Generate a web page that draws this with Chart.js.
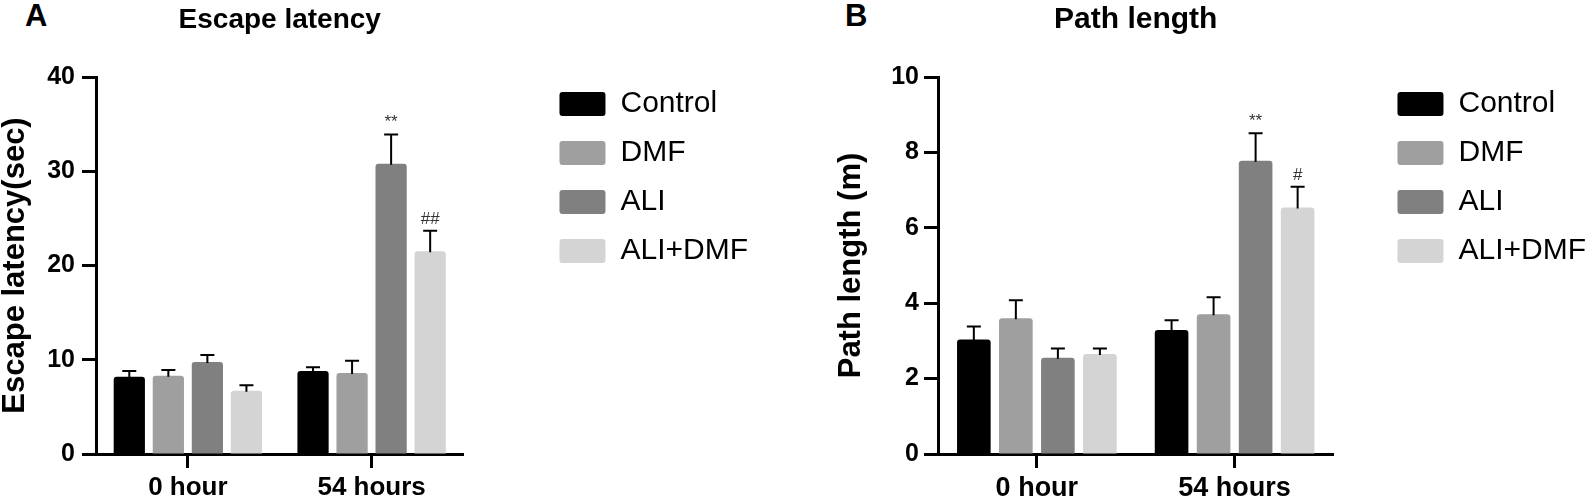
<!doctype html>
<html lang="en">
<head>
<meta charset="UTF-8">
<title>Escape latency / Path length</title>
<script src="https://cdn.jsdelivr.net/npm/chart.js"></script>
<style>
  html, body { margin: 0; padding: 0; background: #fff; overflow: hidden; }
  body { width: 1594px; height: 500px; position: relative; }
  canvas { position: absolute; top: 0; }
  .panel { position: absolute; top: 1px; font: bold 31px 'Liberation Sans', Arial, sans-serif; line-height: 30px; color: #000; }
</style>
</head>
<body>
<div class="panel" style="left:25px">A</div>
<div class="panel" style="left:845px">B</div>
<canvas id="latency" width="758" height="500" style="left:0px"></canvas>
<canvas id="path" width="760" height="500" style="left:836px"></canvas>

<script>
// ---- data ----
const timepoints = ['0 hour', '54 hours'];
const groups = ['Control', 'DMF', 'ALI', 'ALI+DMF'];
const groupColors = ['#000000', '#9f9f9f', '#808080', '#d4d4d4'];

// A: escape latency (sec), mean and upper error
const latControl = [8.2, 8.8];
const latDMF = [8.3, 8.6];
const latALI = [9.75, 30.8];
const latALIDMF = [6.7, 21.5];
const latControlErr = [0.6, 0.4];
const latDMFErr = [0.6, 1.3];
const latALIErr = [0.75, 3.1];
const latALIDMFErr = [0.6, 2.2];
const latALIMarks = ['', '**'];
const latALIDMFMarks = ['', '##'];
const latTicks = [0, 10, 20, 30, 40];

// B: path length (m)
const pathControl = [3.04, 3.29];
const pathDMF = [3.6, 3.71];
const pathALI = [2.55, 7.78];
const pathALIDMF = [2.65, 6.54];
const pathControlErr = [0.34, 0.26];
const pathDMFErr = [0.48, 0.45];
const pathALIErr = [0.25, 0.73];
const pathALIDMFErr = [0.15, 0.55];
const pathALIMarks = ['', '**'];
const pathALIDMFMarks = ['', '#'];
const pathTicks = [0, 2, 4, 6, 8, 10];

const FONT = "'Liberation Sans', Arial, sans-serif";
Chart.defaults.font.family = FONT;
Chart.defaults.color = '#000';

// error bars + significance marks, positioned through the y scale
const errorBars = {
  id: 'errorBars',
  afterDatasetsDraw(chart) {
    const ctx = chart.ctx;
    const y = chart.scales.y;
    chart.data.datasets.forEach((ds, i) => {
      chart.getDatasetMeta(i).data.forEach((bar, j) => {
        const top = y.getPixelForValue(ds.data[j] + ds.errors[j]);
        ctx.save();
        ctx.strokeStyle = '#000';
        ctx.lineWidth = 2;
        ctx.beginPath();
        ctx.moveTo(bar.x, bar.y + 1);
        ctx.lineTo(bar.x, top);
        ctx.moveTo(bar.x - 7, top);
        ctx.lineTo(bar.x + 7, top);
        ctx.stroke();
        if (ds.marks && ds.marks[j]) {
          ctx.fillStyle = '#333';
          ctx.font = '17px ' + FONT;
          ctx.textAlign = 'center';
          ctx.textBaseline = 'alphabetic';
          ctx.fillText(ds.marks[j], bar.x, top - 7);
        }
        ctx.restore();
      });
    });
  }
};

function makeChart(id, o) {
  const datasets = groups.map((g, i) => ({
    label: g,
    data: o.values[i],
    errors: o.errors[i],
    marks: o.marks[i],
    backgroundColor: groupColors[i],
    borderWidth: 0,
    borderRadius: 3,
    categoryPercentage: 0.85,
    barPercentage: 0.8
  }));
  return new Chart(document.getElementById(id), {
    type: 'bar',
    data: { labels: timepoints, datasets: datasets },
    plugins: [errorBars],
    options: {
      responsive: false,
      animation: false,
      layout: { padding: 0 },
      plugins: {
        tooltip: { enabled: false },
        title: {
          display: true,
          text: o.title,
          fullSize: false,
          font: { size: o.titleSize, weight: 'bold', lineHeight: 1 },
          color: '#000',
          padding: { top: o.titleTop, bottom: 77 - o.titleTop - o.titleSize }
        },
        legend: {
          position: 'right',
          align: 'start',
          maxWidth: 400,
          title: { display: true, text: '', font: { size: 1, lineHeight: 1 }, padding: { top: 69, bottom: 0 } },
          labels: {
            boxWidth: 46,
            boxHeight: 24,
            padding: 19,
            useBorderRadius: true,
            borderRadius: 3,
            color: '#000',
            font: { size: 30, weight: 'normal' }
          }
        }
      },
      scales: {
        x: {
          grid: { display: true, drawOnChartArea: false, offset: false, tickLength: 14, tickWidth: 3, tickColor: '#000' },
          border: { display: true, color: '#000', width: 3 },
          ticks: { color: '#000', padding: 7, maxRotation: 0, font: { size: o.xSize, weight: 'bold', lineHeight: 1 } },
          afterFit: s => { s.height = 46; }
        },
        y: {
          min: o.ticks[0],
          max: o.ticks[o.ticks.length - 1],
          afterBuildTicks: s => { s.ticks = o.ticks.map(v => ({ value: v })); },
          grid: { display: true, drawOnChartArea: false, tickLength: 14, tickWidth: 3, tickColor: '#000' },
          border: { display: true, color: '#000', width: 3 },
          ticks: { color: '#000', padding: o.yPad, font: { size: 25, weight: 'bold' } },
          title: {
            display: true,
            text: o.yTitle,
            color: '#000',
            padding: 0,
            font: { size: o.yTitleSize, weight: 'bold', lineHeight: 1 }
          },
          afterFit: s => { s.width = o.yWidth; }
        },
        gap: {
          type: 'linear',
          position: 'right',
          display: true,
          grid: { display: false },
          border: { display: false },
          ticks: { display: false },
          afterFit: s => { s.width = o.gap; }
        }
      }
    }
  });
}

makeChart('latency', {
  title: 'Escape latency', titleSize: 28, titleTop: 6, xSize: 26,
  yTitle: 'Escape latency(sec)', yTitleSize: 31, yWidth: 96, yPad: 7, gap: 77,
  ticks: latTicks,
  values: [latControl, latDMF, latALI, latALIDMF],
  errors: [latControlErr, latDMFErr, latALIErr, latALIDMFErr],
  marks: [null, null, latALIMarks, latALIDMFMarks]
});

makeChart('path', {
  title: 'Path length', titleSize: 30, titleTop: 5, xSize: 27,
  yTitle: 'Path length (m)', yTitleSize: 31, yWidth: 102, yPad: 5, gap: 45,
  ticks: pathTicks,
  values: [pathControl, pathDMF, pathALI, pathALIDMF],
  errors: [pathControlErr, pathDMFErr, pathALIErr, pathALIDMFErr],
  marks: [null, null, pathALIMarks, pathALIDMFMarks]
});
</script>
</body>
</html>
